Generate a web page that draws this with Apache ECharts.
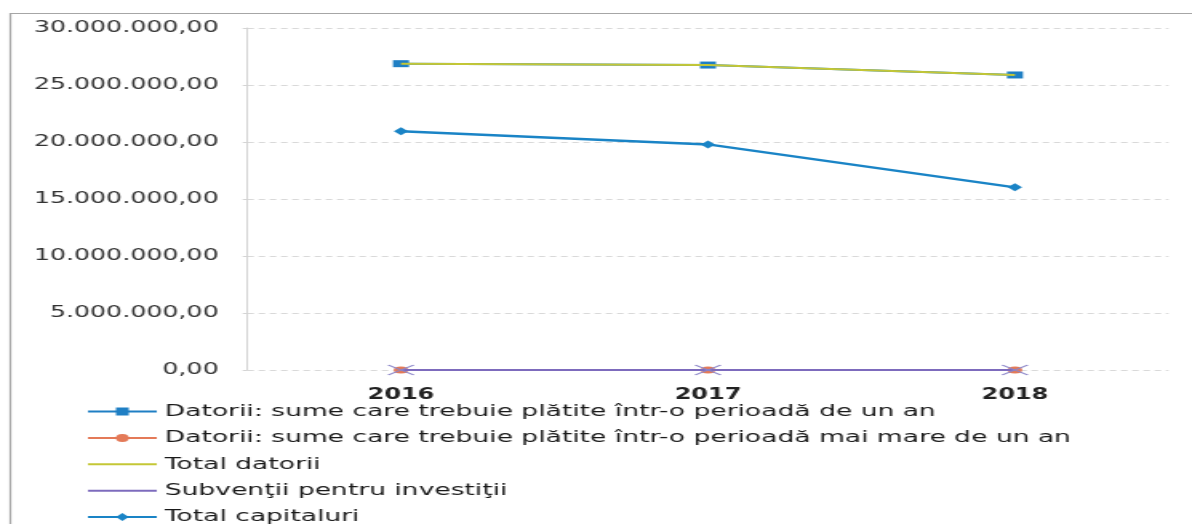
<!DOCTYPE html>
<html>
<head>
<meta charset="utf-8">
<script src="https://cdn.jsdelivr.net/npm/echarts@6/dist/echarts.min.js"></script>
<style>
  html, body { margin: 0; padding: 0; background: #fff; overflow: hidden; }
  /* the scanned chart is stretched sideways, so draw narrow and widen;
     the legend runs off the bottom edge in the scan, so the box is taller */
  #chart_1 { width: 745px; height: 600px; transform: scaleX(1.6); transform-origin: 0 0; }
</style>
</head>
<body>
<div id="chart_1"></div>
<script>
// date
var ani = ['2016', '2017', '2018'];
var datoriiUnAn = [26870000, 26750000, 25880000];
var datoriiPesteUnAn = [0, 0, 0];
var totalDatorii = [26870000, 26750000, 25880000];
var subventii = [0, 0, 0];
var totalCapitaluri = [20950000, 19790000, 16020000];
var yTicks = { min: 0, max: 30000000, interval: 5000000 };

var numeSerii = [
    'Datorii: sume care trebuie plătite într-o perioadă de un an',
    'Datorii: sume care trebuie plătite într-o perioadă mai mare de un an',
    'Total datorii',
    'Subvenţii pentru investiţii',
    'Total capitaluri'
];

// 30000000 -> 30.000.000,00
function formatRo(v) {
    var s = Math.round(v).toString().replace(/\B(?=(\d{3})+(?!\d))/g, '.');
    return s + ',00';
}

function initCreateBiao1(div_id) {
    var myChart1 = echarts.init(document.getElementById(div_id), null, { renderer: 'canvas' });
    var font = 'DejaVu Sans';
    var option = {
        animation: false,
        backgroundColor: '#fff',
        graphic: [{
            type: 'rect',
            shape: { x: 6.5, y: 13.5, width: 900, height: 700 },
            style: { fill: 'none', stroke: '#a6a6a6', lineWidth: 1.2 },
            silent: true
        }],
        grid: { left: 154.7, right: 14.7, top: 28, bottom: 230, containLabel: false },
        legend: {
            orient: 'vertical',
            left: 54,
            top: 403,
            padding: 0,
            itemWidth: 43,
            itemHeight: 10,
            itemGap: 9.4,
            textStyle: { fontFamily: font, fontSize: 16.6, color: '#1a1a1a' },
            data: [
                { name: numeSerii[0] },
                { name: numeSerii[1] },
                { name: numeSerii[2], itemStyle: { opacity: 0 } },
                { name: numeSerii[3], itemStyle: { opacity: 0 } },
                { name: numeSerii[4] }
            ]
        },
        xAxis: [{
            type: 'category',
            data: ani,
            boundaryGap: true,
            axisLine: { show: false },
            axisTick: { show: false },
            axisLabel: { fontFamily: font, fontSize: 15, fontWeight: 'bold', color: '#222', margin: 18 }
        }],
        yAxis: [{
            type: 'value',
            min: yTicks.min,
            max: yTicks.max,
            interval: yTicks.interval,
            axisLine: { show: true, lineStyle: { color: '#d4d4d4', width: 1 } },
            axisTick: { show: true, length: 3, lineStyle: { color: '#d4d4d4' } },
            splitLine: { show: true, lineStyle: { color: '#d9d9d9', type: [4, 3], width: 1 } },
            axisLabel: {
                fontFamily: font, fontSize: 15.8, color: '#333', margin: 18,
                formatter: formatRo
            }
        }],
        series: [
            {
                name: numeSerii[0],
                type: 'line',
                data: datoriiUnAn,
                symbol: 'rect',
                symbolSize: [10, 7],
                itemStyle: { color: '#1f7fc4' },
                lineStyle: { color: '#1f7fc4', width: 2 },
                z: 2
            },
            {
                name: numeSerii[1],
                type: 'line',
                data: datoriiPesteUnAn,
                symbol: 'circle',
                symbolSize: [9, 7],
                itemStyle: { color: '#e47a58' },
                lineStyle: { color: '#e47a58', width: 2 },
                z: 2
            },
            {
                name: numeSerii[2],
                type: 'line',
                data: totalDatorii,
                symbol: 'none',
                itemStyle: { color: '#c4c736' },
                lineStyle: { color: '#c4c736', width: 2 },
                z: 3
            },
            {
                name: numeSerii[3],
                type: 'line',
                data: subventii,
                symbol: 'path://M0,0L10,10M10,0L0,10',
                symbolSize: [16, 10],
                itemStyle: { color: 'none', borderColor: '#8c86c9', borderWidth: 1.3 },
                lineStyle: { color: '#7d6bbd', width: 2 },
                z: 3
            },
            {
                name: numeSerii[4],
                type: 'line',
                data: totalCapitaluri,
                symbol: 'diamond',
                symbolSize: [9, 8],
                itemStyle: { color: '#1a84c6' },
                lineStyle: { color: '#1a84c6', width: 2.5 },
                z: 3
            }
        ]
    };
    myChart1.setOption(option);
}

initCreateBiao1('chart_1');
</script>
</body>
</html>
